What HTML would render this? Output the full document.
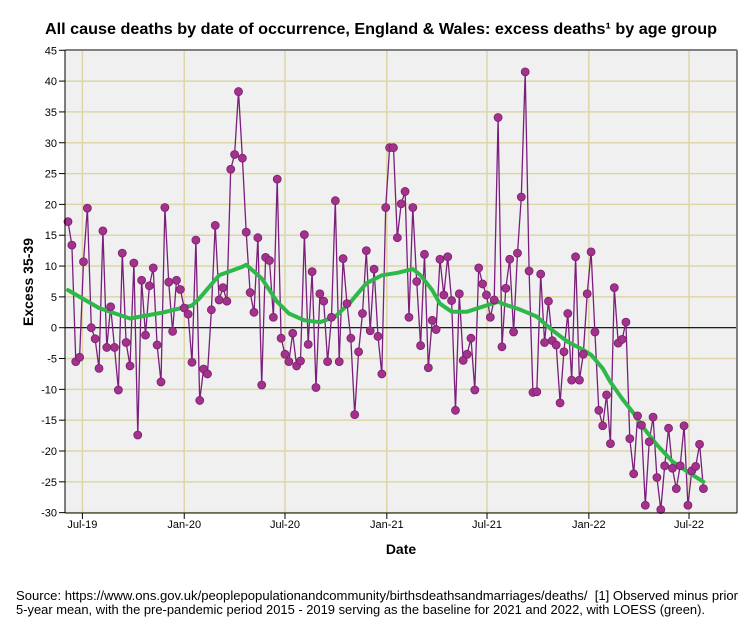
<!DOCTYPE html>
<html><head><meta charset="utf-8">
<style>
html,body{margin:0;padding:0;background:#fff;}
body{width:754px;height:624px;overflow:hidden;font-family:"Liberation Sans",sans-serif;}
svg text{font-family:"Liberation Sans",sans-serif;}
</style></head>
<body>
<svg id="chart" width="754" height="624" viewBox="0 0 754 624" xmlns="http://www.w3.org/2000/svg">
<text x="381" y="34" text-anchor="middle" font-size="16" font-weight="bold" fill="#000" textLength="672" lengthAdjust="spacingAndGlyphs">All cause deaths by date of occurrence, England &amp; Wales: excess deaths¹ by age group</text>
<rect x="65" y="50" width="672" height="463" fill="#f0f0f0"/>
<g id="grid"></g>
<g id="yaxis"></g>
<g id="xaxis"></g>
<g id="series"></g>
<line x1="65" y1="50" x2="737" y2="50" stroke="#808080" stroke-width="2"/>
<line x1="737" y1="50" x2="737" y2="513" stroke="#808080" stroke-width="2"/>
<line x1="65" y1="50" x2="65" y2="513" stroke="#000" stroke-width="1"/>
<line x1="65" y1="513" x2="737" y2="513" stroke="#000" stroke-width="1"/>
<text transform="translate(33,282) rotate(-90)" text-anchor="middle" font-size="14" font-weight="bold">Excess 35-39</text>
<text x="401" y="554" text-anchor="middle" font-size="14" font-weight="bold">Date</text>
<text x="16" y="600" font-size="13" textLength="722" lengthAdjust="spacingAndGlyphs">Source: https://www.ons.gov.uk/peoplepopulationandcommunity/birthsdeathsandmarriages/deaths/&#160; [1] Observed minus prior</text>
<text x="16" y="614" font-size="13" textLength="689" lengthAdjust="spacingAndGlyphs">5-year mean, with the pre-pandemic period 2015 - 2019 serving as the baseline for 2021 and 2022, with LOESS (green).</text>
</svg>
<script>
const startDate = '2019-06-05';
const excess = [17.2,13.4,-5.5,-4.8,10.7,19.4,0,-1.8,-6.6,15.7,-3.2,3.4,-3.2,-10.1,12.1,-2.4,-6.2,10.5,-17.4,7.7,-1.2,6.8,9.7,-2.8,-8.8,19.5,7.4,-0.6,7.7,6.2,3.2,2.2,-5.6,14.2,-11.8,
-6.7,-7.5,2.9,16.6,4.5,6.5,4.3,25.7,28.1,38.3,27.5,15.5,5.7,2.5,14.6,-9.3,11.4,10.9,1.7,24.1,-1.7,-4.3,-5.5,-0.9,-6.2,-5.4,15.1,-2.7,9.1,
-9.7,5.5,4.3,-5.5,1.7,20.6,-5.5,11.2,3.9,-1.7,-14.1,-3.9,2.3,12.5,-0.5,9.5,-1.4,-7.5,19.5,29.2,29.2,14.6,20.1,22.1,1.7,19.5,7.5,-2.9,
11.9,-6.5,1.2,-0.3,11.1,5.3,11.5,4.4,-13.4,5.5,-5.3,-4.3,-1.7,-10.1,9.7,7.1,5.3,1.7,4.5,34.1,-3.1,6.4,11.1,-0.7,12.1,21.2,41.5,9.2,
-10.5,-10.4,8.7,-2.4,4.3,-2.1,-2.8,-12.2,-3.9,2.3,-8.5,11.5,-8.5,-4.3,5.5,12.3,-0.7,-13.4,-15.9,-10.9,-18.8,6.5,-2.5,-1.9,0.9,-18.0,-23.7,-14.3,
-15.8,-28.8,-18.5,-14.5,-24.3,-29.5,-22.4,-16.3,-22.8,-26.1,-22.4,-15.9,-28.8,-23.2,-22.5,-18.9,-26.1];
const loessWeek = [0,8,16,24,32,34,39,45,46,50,54,57,61,65,69,73,77,81,85,89,91,94,96,99,103,107,111,113,116,118,121,125,129,133,135,138,140,143,146,148,152,156,160,164];
const loessValue = [6.1,3.2,1.5,2.4,3.6,4.8,8.5,9.9,10.2,8,4.2,2.3,1.2,0.9,1.8,4.2,7.2,8.5,8.9,9.5,8.5,6.1,3.9,2.6,2.6,3.4,4.2,3.7,3.1,2.6,1.8,-0.4,-2.3,-3.6,-4.4,-6.6,-8.8,-11.5,-13.9,-15.8,-19,-21.7,-23.4,-25];
const yTicks = [45,40,35,30,25,20,15,10,5,0,-5,-10,-15,-20,-25,-30];
const xTickDates = ['2019-07-01','2020-01-01','2020-07-01','2021-01-01','2021-07-01','2022-01-01','2022-07-01'];
const xTickLabels = ['Jul-19','Jan-20','Jul-20','Jan-21','Jul-21','Jan-22','Jul-22'];

const NS='http://www.w3.org/2000/svg';
const DAY=86400000;
const origin=Date.parse('2019-07-01');
function xScale(ms){return 82.4+(ms-origin)/DAY*0.5535;}
function yScale(v){return 327.7-v*6.165;}
function weekMs(i){return Date.parse(startDate)+i*7*DAY;}
function mk(tag,attrs,parent){const e=document.createElementNS(NS,tag);for(const k in attrs)e.setAttribute(k,attrs[k]);parent.appendChild(e);return e;}

const grid=document.getElementById('grid'),ya=document.getElementById('yaxis'),xa=document.getElementById('xaxis'),ser=document.getElementById('series');
yTicks.forEach(t=>{
  const y=yScale(t);
  if(t!==0){const g=mk('line',{x1:65,x2:737,y1:y,y2:y,stroke:'#dcd6a8','stroke-width':1.5},grid);
  
  }
  const tk=mk('line',{x1:59,x2:65,y1:y,y2:y,stroke:'#000'},ya);
  
  
  const tx=mk('text',{x:57,y:y+4,'text-anchor':'end','font-size':11},ya);
  tx.textContent=t;
  
  
});
xTickDates.forEach((d,i)=>{
  const x=xScale(Date.parse(d));
  const g=mk('line',{x1:x,x2:x,y1:50,y2:513,stroke:'#dcd6a8','stroke-width':1.5},grid);
  
  
  const tk=mk('line',{x1:x,x2:x,y1:513,y2:519,stroke:'#000'},xa);
  
  
  const tx=mk('text',{x:x,y:528,'text-anchor':'middle','font-size':11},xa);
  tx.textContent=xTickLabels[i];
  
  
});
const zl=mk('line',{x1:65,x2:737,y1:yScale(0),y2:yScale(0),stroke:'#000','stroke-width':1.2},grid);



const pts=excess.map((v,i)=>xScale(weekMs(i)).toFixed(1)+','+yScale(v).toFixed(1)).join(' ');
const pl=mk('polyline',{points:pts,fill:'none',stroke:'#7a1f7c','stroke-width':1.3,'stroke-linejoin':'round'},ser);


const lp=loessWeek.map((w,i)=>xScale(weekMs(w)).toFixed(1)+','+yScale(loessValue[i]).toFixed(1)).join(' ');
const ll=mk('polyline',{points:lp,fill:'none',stroke:'#2fb84a','stroke-width':4,'stroke-linejoin':'round','stroke-linecap':'round'},ser);


excess.forEach((v,i)=>{
  const c=mk('circle',{cx:xScale(weekMs(i)),cy:yScale(v),r:4,fill:'#a2328c',stroke:'#7a1f6e','stroke-width':0.8},ser);
  
  
});
</script>
</body></html>
